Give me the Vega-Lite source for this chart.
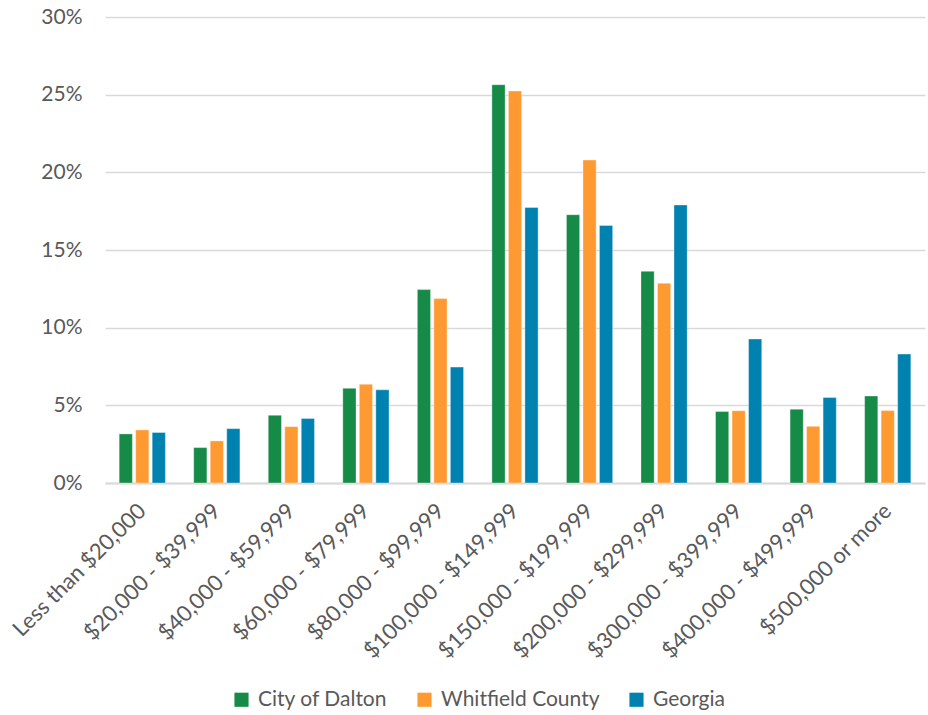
{
  "$schema": "https://vega.github.io/schema/vega-lite/v6.json",
  "width": 820,
  "height": 466,
  "autosize": {"type": "none"},
  "padding": {"left": 105, "top": 17, "right": 3, "bottom": 232},
  "background": "white",
  "config": {
    "font": "Lato",
    "view": {"stroke": null},
    "axis": {"labelFont": "Lato", "labelColor": "#595959", "labelFontSize": 21}
  },
  "data": {
    "values": [
      {"cat": "Less than $20,000", "series": "City of Dalton", "v": 3.16},
      {"cat": "Less than $20,000", "series": "Whitfield County", "v": 3.42},
      {"cat": "Less than $20,000", "series": "Georgia", "v": 3.25},
      {"cat": "$20,000 - $39,999", "series": "City of Dalton", "v": 2.28},
      {"cat": "$20,000 - $39,999", "series": "Whitfield County", "v": 2.71},
      {"cat": "$20,000 - $39,999", "series": "Georgia", "v": 3.5},
      {"cat": "$40,000 - $59,999", "series": "City of Dalton", "v": 4.36},
      {"cat": "$40,000 - $59,999", "series": "Whitfield County", "v": 3.63},
      {"cat": "$40,000 - $59,999", "series": "Georgia", "v": 4.15},
      {"cat": "$60,000 - $79,999", "series": "City of Dalton", "v": 6.1},
      {"cat": "$60,000 - $79,999", "series": "Whitfield County", "v": 6.36},
      {"cat": "$60,000 - $79,999", "series": "Georgia", "v": 6.0},
      {"cat": "$80,000 - $99,999", "series": "City of Dalton", "v": 12.45},
      {"cat": "$80,000 - $99,999", "series": "Whitfield County", "v": 11.87},
      {"cat": "$80,000 - $99,999", "series": "Georgia", "v": 7.46},
      {"cat": "$100,000 - $149,999", "series": "City of Dalton", "v": 25.64},
      {"cat": "$100,000 - $149,999", "series": "Whitfield County", "v": 25.24},
      {"cat": "$100,000 - $149,999", "series": "Georgia", "v": 17.74},
      {"cat": "$150,000 - $199,999", "series": "City of Dalton", "v": 17.27},
      {"cat": "$150,000 - $199,999", "series": "Whitfield County", "v": 20.79},
      {"cat": "$150,000 - $199,999", "series": "Georgia", "v": 16.58},
      {"cat": "$200,000 - $299,999", "series": "City of Dalton", "v": 13.63},
      {"cat": "$200,000 - $299,999", "series": "Whitfield County", "v": 12.86},
      {"cat": "$200,000 - $299,999", "series": "Georgia", "v": 17.9},
      {"cat": "$300,000 - $399,999", "series": "City of Dalton", "v": 4.6},
      {"cat": "$300,000 - $399,999", "series": "Whitfield County", "v": 4.65},
      {"cat": "$300,000 - $399,999", "series": "Georgia", "v": 9.27},
      {"cat": "$400,000 - $499,999", "series": "City of Dalton", "v": 4.75},
      {"cat": "$400,000 - $499,999", "series": "Whitfield County", "v": 3.65},
      {"cat": "$400,000 - $499,999", "series": "Georgia", "v": 5.5},
      {"cat": "$500,000 or more", "series": "City of Dalton", "v": 5.6},
      {"cat": "$500,000 or more", "series": "Whitfield County", "v": 4.66},
      {"cat": "$500,000 or more", "series": "Georgia", "v": 8.3}
    ]
  },
  "mark": {"type": "bar", "stroke": "white", "strokeWidth": 0.6, "strokeOpacity": 0.6},
  "encoding": {
    "x": {
      "field": "cat",
      "type": "nominal",
      "sort": null,
      "title": null,
      "scale": {"paddingInner": 0.38, "paddingOuter": 0.19},
      "axis": {
        "labelAngle": -45,
        "labelAlign": "right",
        "labelBaseline": "middle",
        "labelPadding": 24,
        "labelFontSize": 22,
        "ticks": false,
        "domainColor": "#d9d9d9",
        "domainWidth": 2,
        "labelOverlap": false,
        "labelLimit": 400
      }
    },
    "xOffset": {
      "field": "series",
      "type": "nominal",
      "sort": ["City of Dalton", "Whitfield County", "Georgia"],
      "scale": {"paddingInner": 0.2}
    },
    "y": {
      "field": "v",
      "type": "quantitative",
      "title": null,
      "scale": {"domain": [0, 30], "nice": false},
      "axis": {
        "values": [0, 5, 10, 15, 20, 25, 30],
        "labelExpr": "datum.value + '%'",
        "domain": false,
        "ticks": false,
        "labelPadding": 23,
        "gridColor": "#d9d9d9",
        "gridWidth": 1.5
      }
    },
    "color": {
      "field": "series",
      "type": "nominal",
      "sort": ["City of Dalton", "Whitfield County", "Georgia"],
      "scale": {
        "domain": ["City of Dalton", "Whitfield County", "Georgia"],
        "range": ["#168A47", "#FF9A33", "#0082B0"]
      },
      "legend": {
        "title": null,
        "orient": "none",
        "legendX": 126,
        "legendY": 672,
        "direction": "horizontal",
        "symbolType": "square",
        "symbolSize": 200,
        "symbolStrokeWidth": 0,
        "labelFont": "Lato",
        "labelFontSize": 21,
        "labelColor": "#595959",
        "labelLimit": 300,
        "labelOffset": 6,
        "columnPadding": 26
      }
    }
  }
}
